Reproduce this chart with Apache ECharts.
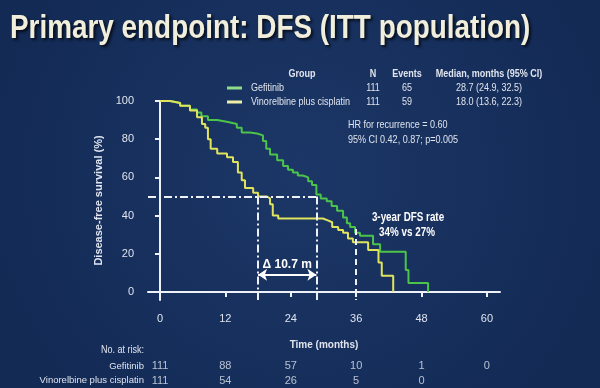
<!DOCTYPE html>
<html>
<head>
<meta charset="utf-8">
<script src="https://cdn.jsdelivr.net/npm/echarts@6/dist/echarts.min.js"></script>
<style>
  html, body { margin: 0; padding: 0; }
  #chart { width: 600px; height: 388px; }
</style>
</head>
<body>
<div id="chart"></div>
<script>
var FONT = "'Liberation Sans', Arial, sans-serif";
var NARROW = 0.82; // the slide uses a narrow face, so text is squeezed

// Kaplan-Meier steps: month, DFS %
var gefMonths = [0, 2, 3.7, 5.5, 6.8, 7.6, 8.8, 10.5, 12.5, 14.1, 15, 16.5, 17.8, 18.9, 19.5, 20.2, 21.5, 22.6, 23.5, 24.4, 25.3, 26.2, 27.2, 27.9, 28.7, 29.5, 30.6, 31.5, 32.5, 33.6, 34.3, 34.9, 35.8, 36.7, 39.1, 40.4, 45.1, 45.6, 49.2];
var gefDfs    = [100, 99, 97.5, 95.5, 94, 92, 90, 89, 88, 86, 83.5, 83, 82, 79, 75, 72, 69, 66, 64, 62.5, 61, 60, 58, 56, 51, 49, 47.5, 45, 42.5, 39, 36, 34, 31, 29.5, 25, 21, 11.5, 4.7, 0];
var vinMonths = [0, 1.8, 3.7, 5.5, 6.8, 7.7, 8.3, 8.8, 9.3, 10.5, 12.3, 13.4, 14.3, 15, 15.6, 17.1, 18.0, 19.6, 20.2, 20.7, 21.7, 29.9, 30.8, 31.6, 32.7, 33.6, 34.5, 35.4, 38.2, 40.1, 40.7, 42.8];
var vinDfs    = [100, 99, 97.5, 95, 91.5, 88, 86, 80, 75, 72.5, 70.5, 68, 62.5, 58.5, 54.5, 52, 50, 49, 46, 40, 38.5, 37.5, 36.5, 34, 32.5, 31, 28, 26, 22, 15.5, 8.5, 0];

var groups     = ['Gefitinib', 'Vinorelbine plus cisplatin'];
var nPatients  = [111, 111];
var nEvents    = [65, 59];
var medianText = ['28.7 (24.9, 32.5)', '18.0 (13.6, 22.3)'];
var medians    = [28.7, 18.0];
var colors     = ['#4cc44a', '#e0e35c'];

var xTicks   = [0, 12, 24, 36, 48, 60];
var yTicks   = [0, 20, 40, 60, 80, 100];
var gefRisk  = [111, 88, 57, 10, 1, 0];
var vinRisk  = [111, 54, 26, 5, 0];
var threeYearLine = 33;
var arrowLevel = 9;

var X_MIN = -2.2, X_MAX = 62.4, Y_MIN = -4.2;

function pairs(xs, ys) {
  return xs.map(function (x, i) { return [x, ys[i]]; });
}

var riskData = [];
gefRisk.forEach(function (v, i) { riskData.push([xTicks[i], groups[0], v]); });
vinRisk.forEach(function (v, i) { riskData.push([xTicks[i], groups[1], v]); });

var txt = '#dfe4ee';
var refLine = { color: '#eef2f8', width: 2, type: [8, 3, 2, 3] };

// squeezed text for the annotations
function label(x, y, text, font, align, extra) {
  var style = { text: text, font: font + ' ' + FONT, fill: txt, align: align || 'left', verticalAlign: 'middle' };
  for (var k in extra) style[k] = extra[k];
  return { type: 'text', x: x, y: y, scaleX: NARROW, style: style };
}

var chart = echarts.init(document.getElementById('chart'));
var option = {
  animation: false,
  backgroundColor: {
    type: 'radial', x: 0.5, y: 0.45, r: 0.8,
    colorStops: [{ offset: 0, color: '#1c3767' }, { offset: 1, color: '#132a55' }]
  },
  grid: [
    { left: 148, right: 100, top: 101, bottom: 88 },
    { left: 148, right: 100, top: 359, height: 30 }
  ],
  xAxis: [{
    type: 'value', min: X_MIN, max: X_MAX, gridIndex: 0,
    name: 'Time (months)', nameLocation: 'middle', nameGap: 40,
    nameTextStyle: { fontFamily: FONT, fontSize: 10, fontWeight: 'bold', color: txt },
    axisLine: { show: true, lineStyle: { color: '#eef2f8', width: 2 } },
    axisTick: { show: true, length: 5, lineStyle: { color: '#eef2f8', width: 2 }, customValues: xTicks },
    axisLabel: { fontFamily: FONT, fontSize: 11, color: txt, margin: 13, customValues: xTicks },
    splitLine: { show: false }
  }, {
    type: 'value', min: X_MIN, max: X_MAX, gridIndex: 1, show: false
  }],
  yAxis: [{
    type: 'value', min: Y_MIN, max: 100, gridIndex: 0,
    name: 'Disease-free survival (%)', nameLocation: 'middle', nameGap: 42, nameRotate: 90,
    nameTextStyle: { fontFamily: FONT, fontSize: 11, fontWeight: 'bold', color: txt },
    axisLine: { show: true, lineStyle: { color: '#eef2f8', width: 2 } },
    axisTick: { show: true, length: 5, lineStyle: { color: '#eef2f8', width: 2 }, customValues: yTicks },
    axisLabel: { fontFamily: FONT, fontSize: 11, color: txt, margin: 14, customValues: yTicks },
    splitLine: { show: false }
  }, {
    type: 'category', gridIndex: 1, data: groups, inverse: true,
    axisLine: { show: false }, axisTick: { show: false },
    axisLabel: { fontFamily: FONT, fontSize: 9.5, color: txt, margin: 4 }
  }],
  series: [{
    name: groups[0], type: 'line', step: 'end', showSymbol: false,
    data: pairs(gefMonths, gefDfs),
    lineStyle: { color: colors[0], width: 2 }, z: 3,
    markLine: {
      silent: true, symbol: 'none', animation: false,
      label: { show: false },
      lineStyle: refLine,
      data: [
        [{ coord: [X_MIN, 50] }, { coord: [medians[0], 50] }],
        [{ coord: [medians[1], 50] }, { coord: [medians[1], Y_MIN] }],
        [{ coord: [medians[0], 50] }, { coord: [medians[0], Y_MIN] }],
        [{ coord: [36, threeYearLine], lineStyle: { type: [6, 4] } }, { coord: [36, Y_MIN] }],
        [{
          coord: [medians[1], arrowLevel], symbol: 'arrow',
          lineStyle: { type: 'solid', color: '#ffffff', width: 2 },
          label: { show: true, position: 'middle', formatter: '\u0394 10.7 m', distance: 4,
            fontFamily: FONT, fontSize: 12, fontWeight: 'bold', color: '#ffffff' }
        }, { coord: [medians[0], arrowLevel], symbol: 'arrow' }]
      ],
      symbolSize: 9
    }
  }, {
    name: groups[1], type: 'line', step: 'end', showSymbol: false,
    data: pairs(vinMonths, vinDfs),
    lineStyle: { color: colors[1], width: 2 }, z: 4
  }, {
    type: 'scatter', xAxisIndex: 1, yAxisIndex: 1, symbolSize: 1,
    itemStyle: { color: 'rgba(0,0,0,0)' },
    data: riskData,
    label: { show: true, position: 'inside', formatter: function (p) { return p.value[2]; },
      fontFamily: FONT, fontSize: 11, color: txt }
  }],
  graphic: [
    // slide title
    {
      type: 'text', x: 10, y: 12, scaleX: NARROW,
      style: {
        text: 'Primary endpoint: DFS (ITT population)', font: 'bold 34px ' + FONT, fill: '#f1efdc',
        textShadowColor: 'rgba(0,0,0,0.75)', textShadowBlur: 3, textShadowOffsetX: 2, textShadowOffsetY: 2
      }
    },
    // legend table
    label(302, 74, 'Group', 'bold 11px', 'center'),
    label(373, 74, 'N', 'bold 11px', 'center'),
    label(407, 74, 'Events', 'bold 11px', 'center'),
    label(489, 74, 'Median, months (95% CI)', 'bold 11px', 'center'),
    { type: 'line', shape: { x1: 227, y1: 88, x2: 242, y2: 88 }, style: { stroke: '#8fdc8a', lineWidth: 3 } },
    { type: 'line', shape: { x1: 227, y1: 102, x2: 242, y2: 102 }, style: { stroke: '#eeeea8', lineWidth: 3 } },
    label(251, 88, groups[0], '11px'),
    label(251, 102, groups[1], '11px'),
    label(373, 88, String(nPatients[0]), '11px', 'center'),
    label(373, 102, String(nPatients[1]), '11px', 'center'),
    label(407, 88, String(nEvents[0]), '11px', 'center'),
    label(407, 102, String(nEvents[1]), '11px', 'center'),
    label(489, 88, medianText[0], '11px', 'center'),
    label(489, 102, medianText[1], '11px', 'center'),
    // hazard ratio
    label(348, 125, 'HR for recurrence = 0.60', '11px'),
    label(348, 140, '95% CI 0.42, 0.87; p=0.005', '11px'),
    // 3-year rate
    label(408, 218, '3-year DFS rate', 'bold 12px', 'center', { fill: '#ffffff' }),
    label(407, 233, '34% vs 27%', 'bold 12px', 'center', { fill: '#ffffff' }),
    // at-risk header
    label(144, 350, 'No. at risk:', '11px', 'right')
  ]
};
chart.setOption(option);
</script>
</body>
</html>
